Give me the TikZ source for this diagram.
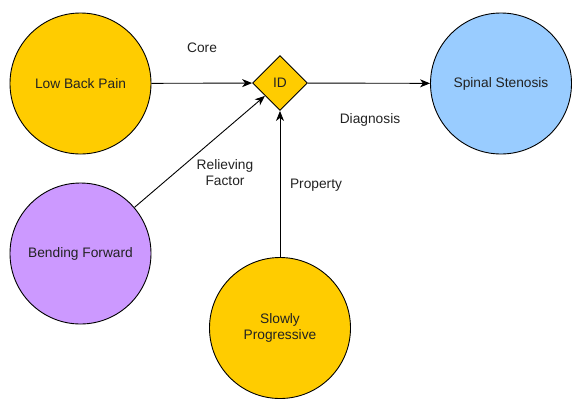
\documentclass[tikz,border=0pt]{standalone}
\usepackage{fontspec}
\setmainfont{Liberation Sans}
\usetikzlibrary{shapes.geometric,arrows.meta}
\definecolor{cyellow}{HTML}{FFCC00}
\definecolor{cpurple}{HTML}{CC99FF}
\definecolor{cblue}{HTML}{99CCFF}
\definecolor{ctext}{HTML}{222222}
\begin{document}
\begin{tikzpicture}[x=1bp,y=-1bp,
  every node/.style={font=\fontsize{13.8}{16}\selectfont, text=ctext},
  concept/.style={circle, draw=black, line width=0.9bp, minimum size=141bp, inner sep=0pt, align=center},
  hub/.style={diamond, draw=black, line width=0.9bp, fill=cyellow, minimum width=55bp, minimum height=55bp, inner sep=0pt},
  link/.style={draw=black, line width=0.9bp, -{Stealth[length=10bp,width=8bp,inset=3bp]}},
  lbl/.style={align=center}]
\useasboundingbox (0,0) rectangle (572,399);
\node[concept, fill=cyellow] (lbp) at (80.5,83.5) {Low Back Pain};
\node[hub] (id) at (280,83) {ID};
\node[concept, fill=cblue] (ss) at (501,83.5) {Spinal Stenosis};
\node[concept, fill=cpurple] (bf) at (80.5,253.5) {Bending Forward};
\node[concept, fill=cyellow] (sp) at (280,328) {Slowly\\Progressive};
\draw[link] (lbp) -- (id);
\draw[link] (id) -- (ss);
\draw[link] (bf) -- (id);
\draw[link] (sp) -- (id);
\node[lbl] (lcore) at (202,48) {Core};
\node[lbl] (ldiag) at (370,119.5) {Diagnosis};
\node[lbl] (lrel) at (225,173) {Relieving\\Factor};
\node[lbl] (lprop) at (316,185.5) {Property};
\end{tikzpicture}
\end{document}
